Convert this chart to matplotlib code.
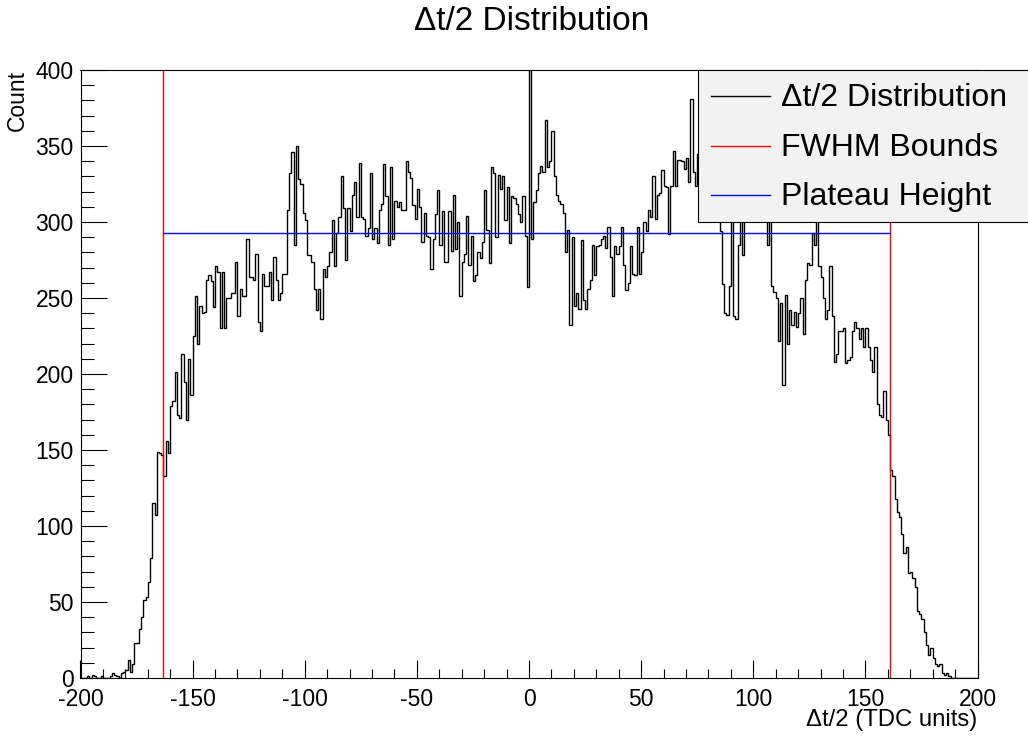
import numpy as np
import matplotlib
matplotlib.use('Agg')
import matplotlib.pyplot as plt
from matplotlib.patches import Rectangle
from matplotlib.lines import Line2D
from matplotlib.ticker import MultipleLocator

plt.rcParams['font.family'] = ['Liberation Sans', 'DejaVu Sans']
plt.rcParams['axes.unicode_minus'] = False

# histogram range, one bin per TDC unit
x_lo, x_hi = -200, 200

# bin contents
counts_a = [  # -200 .. -101
    0, 0, 0, 1, 0, 2, 1, 0, 0, 1, 0, 0, 0, 1, 3, 2, 1, 0, 3, 4,
    5, 12, 4, 9, 23, 23, 32, 40, 51, 53, 63, 79, 115, 107, 149, 148, 147, 133, 156, 148,
    179, 182, 201, 173, 171, 213, 195, 170, 210, 186, 225, 251, 220, 245, 240, 241, 262, 265, 261, 244,
    271, 267, 230, 267, 230, 250, 250, 253, 253, 274, 238, 256, 251, 251, 289, 264, 264, 262, 279, 234,
    228, 266, 258, 258, 267, 249, 277, 262, 249, 253, 266, 266, 308, 332, 346, 285, 350, 328, 325, 306,
]
counts_b = [  # -100 .. -1
    301, 278, 278, 274, 256, 242, 256, 236, 269, 264, 271, 280, 301, 271, 293, 303, 330, 309, 275, 309,
    294, 318, 326, 303, 339, 303, 302, 291, 296, 332, 289, 296, 286, 308, 312, 338, 317, 285, 336, 289,
    314, 310, 313, 308, 308, 340, 333, 329, 311, 302, 322, 310, 287, 306, 291, 290, 269, 289, 305, 321,
    285, 307, 274, 274, 307, 281, 318, 282, 300, 251, 274, 279, 304, 272, 291, 261, 265, 280, 276, 287,
    321, 295, 273, 336, 332, 290, 331, 322, 330, 301, 323, 286, 317, 316, 312, 305, 300, 317, 291, 257,
]
counts_c = [  # 0 .. 99
    400, 289, 313, 321, 332, 337, 333, 367, 336, 340, 360, 330, 318, 314, 312, 306, 280, 295, 232, 290,
    245, 253, 243, 288, 249, 243, 256, 262, 285, 265, 284, 285, 289, 291, 283, 297, 277, 251, 284, 279,
    284, 297, 272, 255, 260, 284, 266, 265, 297, 266, 280, 300, 294, 308, 303, 330, 302, 318, 319, 334,
    324, 323, 292, 324, 347, 324, 341, 341, 340, 335, 342, 326, 381, 333, 324, 345, 330, 350, 320, 340,
    335, 325, 345, 315, 320, 294, 259, 240, 239, 258, 310, 238, 236, 285, 315, 278, 330, 310, 340, 325,
]
counts_d = [  # 100 .. 199
    335, 320, 345, 330, 315, 325, 285, 320, 258, 254, 250, 222, 247, 193, 252, 220, 242, 232, 241, 231,
    240, 250, 226, 262, 273, 272, 293, 285, 312, 271, 264, 250, 236, 242, 271, 238, 208, 213, 228, 228,
    230, 207, 209, 211, 228, 234, 230, 223, 230, 218, 230, 218, 209, 201, 218, 180, 173, 172, 189, 170,
    160, 137, 133, 118, 109, 106, 95, 82, 86, 69, 70, 66, 60, 44, 42, 39, 30, 22, 15, 20,
    13, 9, 8, 9, 3, 2, 3, 1, 0, 0, 0, 0, 0, 0, 0, 0, 0, 0, 0, 0,
]
counts = np.array(counts_a + counts_b + counts_c + counts_d)
edges = np.linspace(x_lo, x_hi, len(counts) + 1)

fwhm_left = -163.3
fwhm_right = 161.0
plateau = 292.5

W, H = 1028, 736
fig = plt.figure(figsize=(W / 100, H / 100), dpi=100)
ax = fig.add_axes([80.5 / W, 1 - 678 / H, (977.5 - 80.5) / W, (678 - 70) / H])

ax.stairs(counts, edges, color='black', lw=1.0)
ax.axvline(fwhm_left, color='red', lw=1.0)
ax.axvline(fwhm_right, color='red', lw=1.0)
ax.plot([fwhm_left, fwhm_right], [plateau, plateau], color='blue', lw=1.0)

ax.set_xlim(x_lo, x_hi)
ax.set_ylim(0, 400)
ax.xaxis.set_major_locator(MultipleLocator(50))
ax.xaxis.set_minor_locator(MultipleLocator(10))
ax.yaxis.set_major_locator(MultipleLocator(50))
ax.yaxis.set_minor_locator(MultipleLocator(10))
ax.tick_params(axis='x', which='major', direction='in', length=13, width=0.8, labelsize=16.5, pad=7)
ax.tick_params(axis='x', which='minor', direction='in', length=6.5, width=0.8)
ax.tick_params(axis='y', which='major', direction='in', length=18.7, width=0.8, labelsize=16.5, pad=5)
ax.tick_params(axis='y', which='minor', direction='in', length=9.4, width=0.8)
for s in ax.spines.values():
    s.set_linewidth(0.8)

# titles
fig.text(532 / W, 1 - 22 / H, 'Δt/2 Distribution', ha='center', va='center', fontsize=24)
fig.text(17 / W, 1 - 70 / H, 'Count', rotation=90, ha='center', va='top', fontsize=16.5)
fig.text(977 / W, 1 - 720 / H, 'Δt/2 (TDC units)', ha='right', va='center', fontsize=17.2)

# legend box
fig.add_artist(Rectangle((698 / W, 1 - 222 / H), (1040 - 698) / W, 152 / H,
                         transform=fig.transFigure, facecolor='#f2f2f2',
                         edgecolor='black', lw=0.8, zorder=10))
entries = [('Δt/2 Distribution', 'black', 96), ('FWHM Bounds', 'red', 146),
           ('Plateau Height', 'blue', 195)]
for label, col, ypix in entries:
    fig.add_artist(Line2D([711 / W, 770 / W], [1 - ypix / H, 1 - ypix / H],
                          transform=fig.transFigure, color=col, lw=1.0, zorder=11))
    fig.text(781 / W, 1 - (ypix + 2) / H, label, ha='left', va='center', fontsize=23, zorder=11)

fig.savefig('out.png', dpi=100)
